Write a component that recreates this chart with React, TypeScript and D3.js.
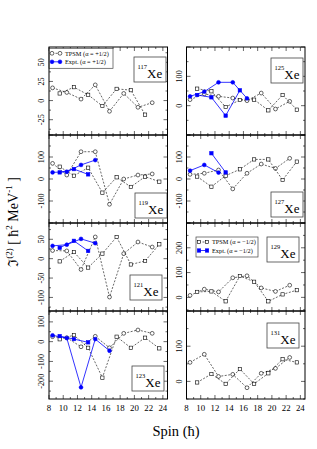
import React from 'react';
import * as d3 from 'd3';

// spins of the two signature branches (alpha = +1/2 and alpha = -1/2)
const spinsPlus = [8.5, 10.5, 12.5, 14.5, 16.5, 18.5, 20.5, 22.5];
const spinsMinus = [9.5, 11.5, 13.5, 15.5, 17.5, 19.5, 21.5, 23.5];
const xTickLabels = [8, 10, 12, 14, 16, 18, 20, 22, 24];

// TPSM and experimental J(2) values, per nucleus
const tpsm117Plus = [16.6, 10.6, 1.9, 20.5, -14, 9.3, -8.8, -2.8];
const tpsm117Minus = [9.3, 17.5, 7.5, -7.1, 15.3, 13.6, -18.4];

const tpsm125Plus = [20.5, 40, 31.8, 26, 17, 43, -11.4, 14.8];
const tpsm125Minus = [58, 49, -4.5, 19.3, 20.5, -16, 36.4, -13.6];
const expt125Plus = [31.7, 47.7, 79.6, 79.6, 25];
const expt125Minus = [36.4, 28.4, -34, 52.3];

const tpsm119Plus = [71, 18, 124, 124, -115, 0, 18, 23];
const tpsm119Minus = [56, 15, 51.5, -62, 7.6, -36, 10.6, -12];
const expt119Plus = [30, 33, 64, 86];
const expt119Minus = [30, 45, 21];

const tpsm127Plus = [21, 26, 41, -45, 26, 68, 48, 94];
const tpsm127Minus = [11, -35, 15, 44, 89, 89, -4.5, 79];
const expt127Plus = [38, 64, 29];
const expt127Minus = [117, 30];

const tpsm121Plus = [21, 20, -28, 56, -99, 13, 43, 30];
const tpsm121Minus = [-7, 17, -23, 13, 56, -15, -6, 37];
const expt121Plus = [33, 36, 51, 40];
const expt121Minus = [28, 46, 20];

const tpsm129Plus = [8, 33, 22, 79, 87, 38, 24, 49];
const tpsm129Minus = [22, 24, -16, 86, 63, -16, 12, 29];

const tpsm123Plus = [25, 20, -26, 27, -31, 42, 59, 42];
const tpsm123Minus = [12, 33, -31, -182, 25, -31, 20, -34];
const expt123Plus = [32, 18, -231, 13, -46];
const expt123Minus = [28, 13, -3.5];

const tpsm131Plus = [54, 77, 14, 20, -18, 23, 37, 68];
const tpsm131Minus = [-3, 21, -7, 35, -7, 23, 63, 54];

const panels = [
  {name: '117', col: 0, row: 0, domain: [-45, 70], yLabels: [-25, 0, 25, 50],
    plus: tpsm117Plus, minus: tpsm117Minus, ePlus: [], eMinus: [], eMinusStart: 1,
    box: [85, 10], legend: '+'},
  {name: '125', col: 1, row: 0, domain: [-100, 200], yLabels: [0, 100],
    plus: tpsm125Plus, minus: tpsm125Minus, ePlus: expt125Plus, eMinus: expt125Minus, eMinusStart: 0,
    box: [84.5, 11]},
  {name: '119', col: 0, row: 1, domain: [-200, 200], yLabels: [-100, 0, 100],
    plus: tpsm119Plus, minus: tpsm119Minus, ePlus: expt119Plus, eMinus: expt119Minus, eMinusStart: 0,
    box: [86, 58]},
  {name: '127', col: 1, row: 1, domain: [-200, 200], yLabels: [-100, 0, 100],
    plus: tpsm127Plus, minus: tpsm127Minus, ePlus: expt127Plus, eMinus: expt127Minus, eMinusStart: 1,
    box: [84.5, 57]},
  {name: '121', col: 0, row: 2, domain: [-135, 92], yLabels: [-100, -50, 0, 50],
    plus: tpsm121Plus, minus: tpsm121Minus, ePlus: expt121Plus, eMinus: expt121Minus, eMinusStart: 0,
    box: [81, 52]},
  {name: '129', col: 1, row: 2, domain: [-55, 300], yLabels: [0, 100, 200],
    plus: tpsm129Plus, minus: tpsm129Minus, ePlus: [], eMinus: [], eMinusStart: 0,
    box: [80.5, 14], legend: '-'},
  {name: '123', col: 0, row: 3, domain: [-290, 155], yLabels: [-200, -100, 0, 100],
    plus: tpsm123Plus, minus: tpsm123Minus, ePlus: expt123Plus, eMinus: expt123Minus, eMinusStart: 0,
    box: [83, 55]},
  {name: '131', col: 1, row: 3, domain: [-50, 200], yLabels: [0, 100],
    plus: tpsm131Plus, minus: tpsm131Minus, ePlus: [], eMinus: [], eMinusStart: 0,
    box: [80.5, 12]},
];

const FONT = '"Liberation Serif", "DejaVu Serif", serif';
const BLUE = '#0000ff';
const colX = [49, 186.5];
const top0 = 47;
const W = 118.5;
const H = 88;

const x = d3.scaleLinear().domain([8, 24.65]).range([0, W]);

function Marker({cx, cy, shape, filled}) {
  if (shape === 'circle') {
    return <circle cx={cx} cy={cy} r={filled ? 1.9 : 1.9}
      fill={filled ? BLUE : 'white'} stroke={filled ? BLUE : 'black'} strokeWidth={0.6} />;
  }
  const s = filled ? 3.4 : 3.3;
  return <rect x={cx - s / 2} y={cy - s / 2} width={s} height={s}
    fill={filled ? BLUE : 'white'} stroke={filled ? BLUE : 'black'} strokeWidth={0.6} />;
}

function Series({spins, values, y, shape, expt}) {
  const pts = values.map((v, i) => [spins[i], v]);
  const line = d3.line().x(d => x(d[0])).y(d => y(d[1]));
  return (
    <g>
      <path d={line(pts)} fill="none" stroke={expt ? BLUE : 'black'}
        strokeWidth={expt ? 0.8 : 0.6} strokeDasharray={expt ? null : '2,1.5'} />
      {pts.map((p, i) => <Marker key={i} cx={x(p[0])} cy={y(p[1])} shape={shape} filled={expt} />)}
    </g>
  );
}

function Panel({p}) {
  const x0 = colX[p.col];
  const y0 = top0 + p.row * H;
  const y = d3.scaleLinear().domain(p.domain).range([H, 0]);
  const step = p.yLabels[1] - p.yLabels[0];
  const half = step / 2;
  const yTicks = d3.range(Math.ceil(p.domain[0] / half) * half, p.domain[1] + 0.001, half);
  const xMinor = [9, 11, 13, 15, 17, 19, 21, 23];
  const bottom = p.row === 3;
  const sign = p.legend === '-' ? '\u22121/2' : '+1/2';
  const legendPos = p.legend === '-' ? [9.5, 14] : [0, 1.3];
  const legendW = p.legend === '-' ? 62 : 64;
  return (
    <g transform={`translate(${x0},${y0})`}>
      {/* x ticks, bottom and top, inward */}
      {xTickLabels.map(t => (
        <g key={'xm' + t}>
          <line x1={x(t)} x2={x(t)} y1={H} y2={H - 4} stroke="black" strokeWidth={0.6} />
          <line x1={x(t)} x2={x(t)} y1={0} y2={4} stroke="black" strokeWidth={0.6} />
        </g>
      ))}
      {xMinor.map(t => (
        <g key={'xn' + t}>
          <line x1={x(t)} x2={x(t)} y1={H} y2={H - 2} stroke="black" strokeWidth={0.6} />
          <line x1={x(t)} x2={x(t)} y1={0} y2={2} stroke="black" strokeWidth={0.6} />
        </g>
      ))}
      {yTicks.map(t => {
        const major = Math.abs(Math.round(t / step) * step - t) < 1e-6;
        const len = major ? 4 : 2;
        return (
          <g key={'y' + t}>
            <line x1={0} x2={len} y1={y(t)} y2={y(t)} stroke="black" strokeWidth={0.6} />
            <line x1={W} x2={W - len} y1={y(t)} y2={y(t)} stroke="black" strokeWidth={0.6} />
          </g>
        );
      })}
      {p.yLabels.map(t => (
        <text key={'yl' + t} transform={`translate(${-5},${y(t)}) rotate(-90)`}
          textAnchor="middle" fontFamily={FONT} fontSize={8.3}>{t}</text>
      ))}
      {bottom && xTickLabels.map(t => (
        <text key={'xl' + t} x={x(t)} y={H + 11.5} textAnchor="middle"
          fontFamily={FONT} fontSize={8.8}>{t}</text>
      ))}

      <Series spins={spinsPlus} values={p.plus} y={y} shape="circle" />
      <Series spins={spinsMinus} values={p.minus} y={y} shape="square" />
      {p.ePlus.length > 0 && <Series spins={spinsPlus} values={p.ePlus} y={y} shape="circle" expt />}
      {p.eMinus.length > 0 &&
        <Series spins={spinsMinus.slice(p.eMinusStart)} values={p.eMinus} y={y} shape="square" expt />}

      {/* nucleus label */}
      <rect x={p.box[0]} y={p.box[1]} width={32} height={25} fill="white" stroke="#444" strokeWidth={0.8} />
      <text x={p.box[0] + 3.5} fontFamily={FONT}>
        <tspan y={p.box[1] + 11.5} fontSize={6.5}>{p.name}</tspan>
        <tspan y={p.box[1] + 20.5} fontSize={13}>Xe</tspan>
      </text>

      {p.legend && (
        <g transform={`translate(${legendPos[0]},${legendPos[1]})`}>
          <rect x={0} y={0} width={legendW} height={20} fill="white" stroke="#444" strokeWidth={0.7} />
          <line x1={3} x2={11} y1={5} y2={5} stroke="black" strokeWidth={0.6} strokeDasharray="2,1.5" />
          <Marker cx={3} cy={5} shape={p.legend === '-' ? 'square' : 'circle'} />
          <Marker cx={11} cy={5} shape={p.legend === '-' ? 'square' : 'circle'} />
          <text x={16} y={7.3} fontFamily={FONT} fontSize={6.3}>TPSM ({'\u03b1'} = {sign})</text>
          <line x1={3} x2={11} y1={13.5} y2={13.5} stroke={BLUE} strokeWidth={0.8} />
          <Marker cx={3} cy={13.5} shape={p.legend === '-' ? 'square' : 'circle'} filled />
          <Marker cx={11} cy={13.5} shape={p.legend === '-' ? 'square' : 'circle'} filled />
          <text x={16} y={15.8} fontFamily={FONT} fontSize={6.3}>Expt. ({'\u03b1'} = {sign})</text>
        </g>
      )}

      <rect x={0} y={0} width={W} height={H} fill="none" stroke="black" strokeWidth={1} />
    </g>
  );
}

export default function App() {
  return (
    <svg width={317} height={449} style={{position: 'absolute', left: 0, top: 0, background: 'white'}}>
      <rect width={317} height={449} fill="white" />
      {panels.map(p => <Panel key={p.name} p={p} />)}
      <text transform="translate(18,222) rotate(-90)" textAnchor="middle" fontFamily={FONT} fontSize={14}>
        <tspan>{'\u2111'}</tspan>
        <tspan fontSize={9} dy={-6}>(2)</tspan>
        <tspan dy={6}> [ {'\u0127'}</tspan>
        <tspan fontSize={9} dy={-6}>2</tspan>
        <tspan dy={6}> MeV</tspan>
        <tspan fontSize={9} dy={-6}>-1</tspan>
        <tspan dy={6}> ]</tspan>
      </text>
      <text x={176} y={436} textAnchor="middle" fontFamily={FONT} fontSize={14.5}>Spin ({'\u0127'})</text>
    </svg>
  );
}
